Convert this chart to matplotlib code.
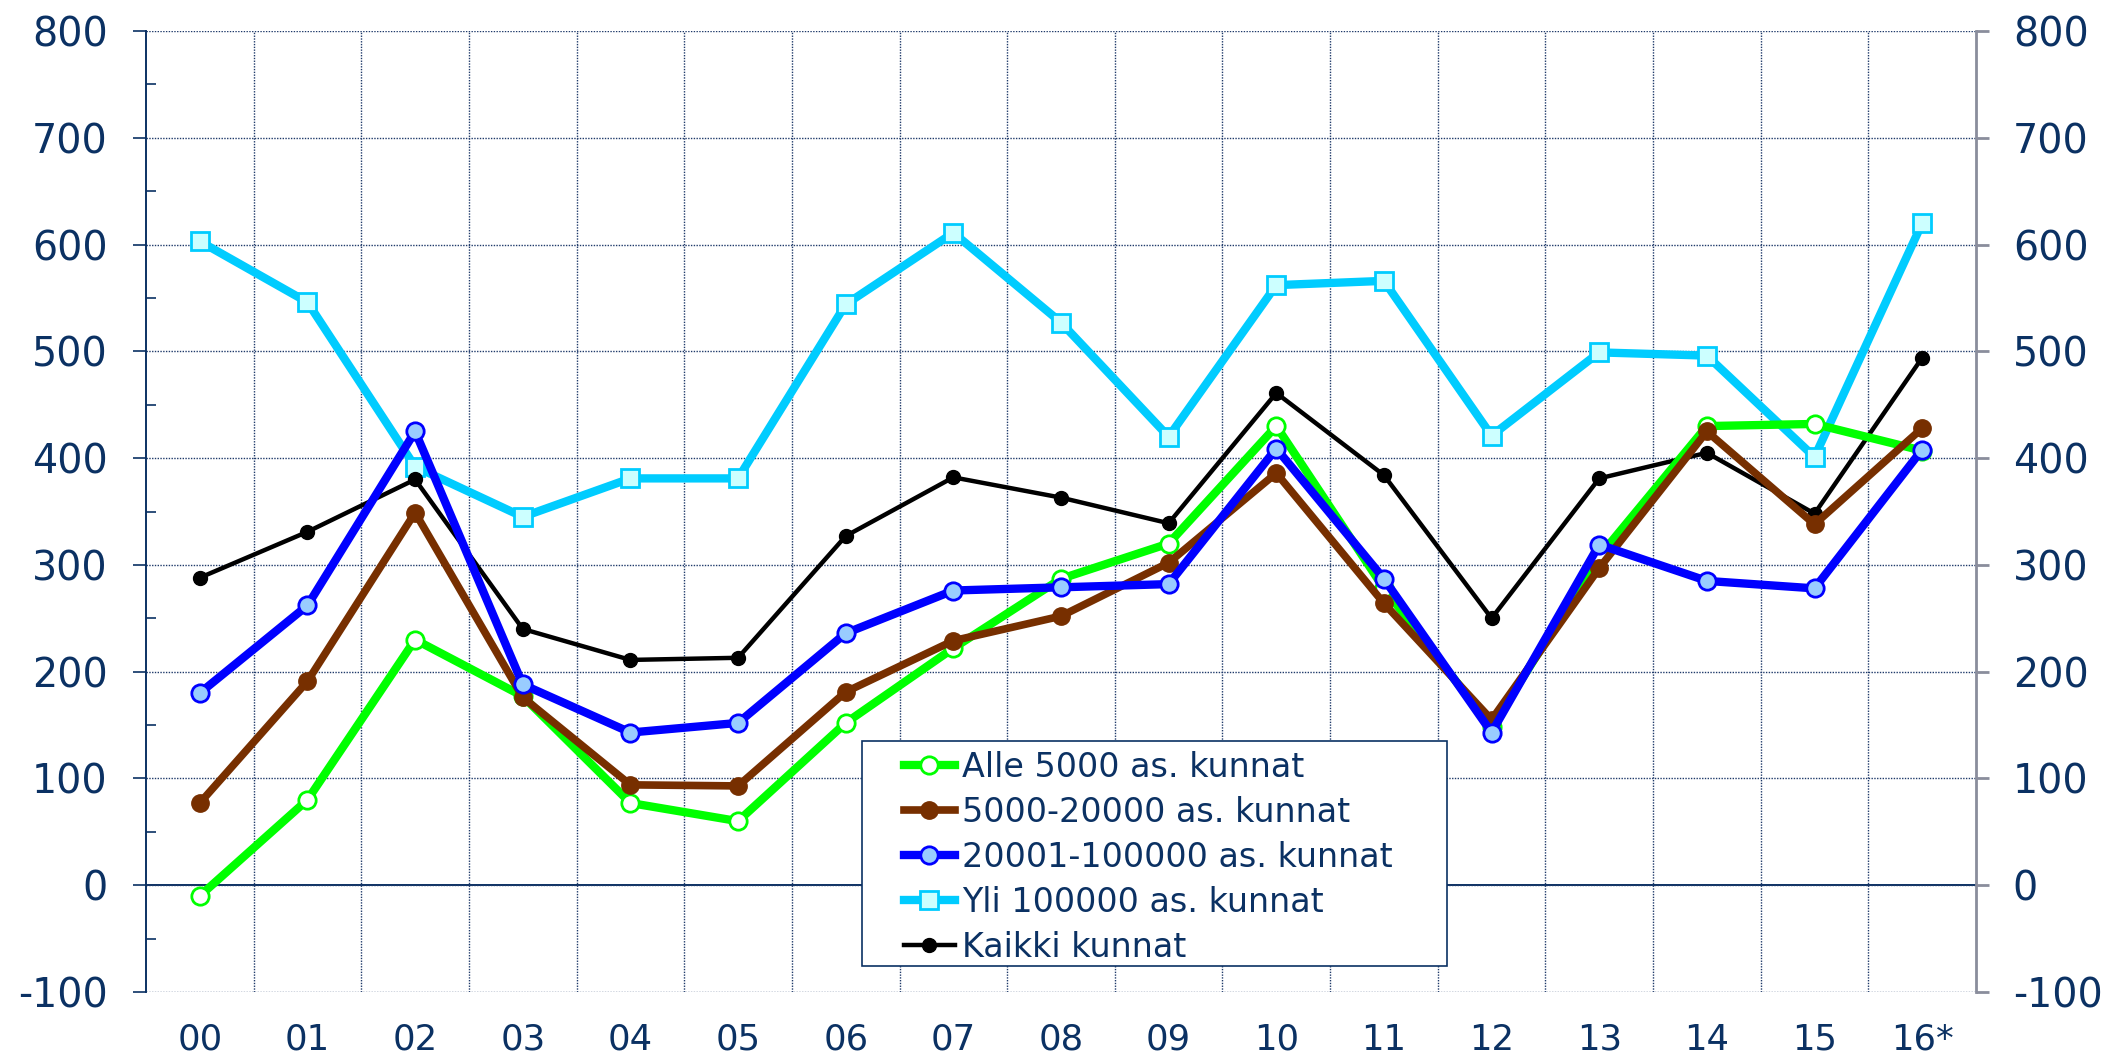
import matplotlib
matplotlib.use("Agg")
import matplotlib.pyplot as plt
from matplotlib.ticker import MultipleLocator, FixedLocator
from matplotlib.patches import Rectangle

plt.rcParams["axes.unicode_minus"] = False

years = ["00", "01", "02", "03", "04", "05", "06", "07", "08",
         "09", "10", "11", "12", "13", "14", "15", "16*"]

alle_5000 = [-10, 80, 230, 177, 77, 60, 152, 222, 287, 320, 430, 278, 148, 308, 430, 432, 407]
v5000_20000 = [77, 191, 349, 176, 94, 93, 181, 229, 252, 302, 386, 264, 155, 297, 425, 338, 428]
v20001_100000 = [180, 262, 425, 188, 143, 152, 236, 276, 279, 282, 409, 287, 143, 319, 285, 278, 408]
yli_100000 = [603, 546, 392, 345, 381, 381, 544, 611, 527, 420, 562, 566, 421, 499, 496, 401, 620]
kaikki = [288, 331, 380, 240, 211, 213, 327, 382, 363, 339, 461, 384, 250, 381, 405, 348, 494]

navy = "#0b3163"
grid_c = "#1f3a6a"

fig = plt.figure(figsize=(21.1, 10.61), dpi=100)
ax = fig.add_axes([146 / 2110, 69 / 1061, 1830 / 2110, 961 / 1061])
x = list(range(len(years)))

ax.plot(x, yli_100000, color="#00ccff", lw=6, marker="s", ms=12.5,
        mfc="#ccffff", mec="#00ccff", mew=2, label="Yli 100000 as. kunnat", zorder=3)
ax.plot(x, kaikki, color="black", lw=3.2, marker="o", ms=10,
        mfc="black", mec="black", label="Kaikki kunnat", zorder=4)
ax.plot(x, alle_5000, color="#00ff00", lw=6, marker="o", ms=12.5,
        mfc="white", mec="#00ff00", mew=2, label="Alle 5000 as. kunnat", zorder=5)
ax.plot(x, v5000_20000, color="#772f00", lw=5.5, marker="o", ms=12.5,
        mfc="#772f00", mec="#772f00", label="5000-20000 as. kunnat", zorder=6)
ax.plot(x, v20001_100000, color="#0000ff", lw=6, marker="o", ms=12.5,
        mfc="#99ccff", mec="#0000ff", mew=2, label="20001-100000 as. kunnat", zorder=7)

ax.set_xlim(-0.5, 16.5)
ax.set_ylim(-100, 800)

ax.set_xticks(x)
ax.set_xticklabels(years)
ax.xaxis.set_minor_locator(FixedLocator([i + 0.5 for i in range(16)]))
ax.tick_params(axis="x", which="both", length=0, labelsize=25.5, labelcolor=navy, pad=22)

ax.yaxis.set_major_locator(MultipleLocator(100))
ax.yaxis.set_minor_locator(MultipleLocator(50))
ax.tick_params(axis="y", which="major", direction="out", length=9.5, width=1.2,
               color=navy, labelsize=28.5, labelcolor=navy, pad=18)
ax.tick_params(axis="y", which="minor", direction="in", length=7, width=1.2, color=navy)

ax.grid(True, axis="y", which="major", color=grid_c, lw=1, ls=(0, (1, 1)), zorder=0)
ax.grid(True, axis="x", which="minor", color=grid_c, lw=1, ls=(0, (1, 1)), zorder=0)
ax.axhline(0, color=navy, lw=1.4, zorder=1)

for s in ["top", "bottom", "right"]:
    ax.spines[s].set_visible(False)
ax.spines["left"].set_color(navy)
ax.spines["left"].set_linewidth(1.4)

ax2 = ax.twinx()
ax2.set_ylim(-100, 800)
ax2.yaxis.set_major_locator(MultipleLocator(100))
for s in ["top", "bottom", "left"]:
    ax2.spines[s].set_visible(False)
ax2.spines["right"].set_color("#8a8d9c")
ax2.spines["right"].set_linewidth(2)
ax2.tick_params(axis="y", direction="out", length=9.5, width=2, color="#8a8d9c",
                labelsize=28.5, labelcolor=navy, pad=17)

# legend box drawn by hand so the inner padding can match
box = Rectangle((0.391, 0.027), 0.320, 0.234, transform=ax2.transAxes,
                facecolor="white", edgecolor=navy, lw=1.2, zorder=9)
ax2.add_patch(box)

handles, labels = ax.get_legend_handles_labels()
order = [2, 3, 4, 0, 1]
leg = ax2.legend([handles[i] for i in order], [labels[i] for i in order],
                 loc="upper left", bbox_to_anchor=(0.414, 0.251), fontsize=24,
                 frameon=False, handlelength=1.55, handletextpad=0.2,
                 labelspacing=0.36, borderpad=0, borderaxespad=0)
leg.set_zorder(10)
for t in leg.get_texts():
    t.set_color(navy)

fig.savefig("out.png", dpi=100)
